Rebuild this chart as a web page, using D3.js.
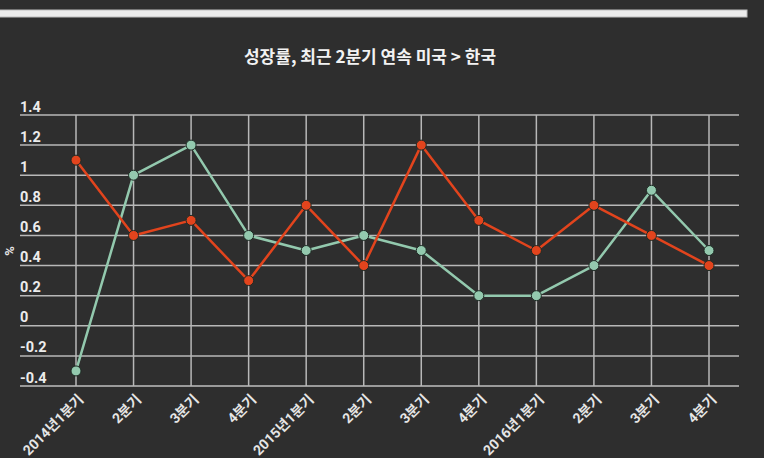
<!DOCTYPE html>
<html>
<head>
<meta charset="utf-8">
<script src="https://cdn.jsdelivr.net/npm/d3@7/dist/d3.min.js"></script>
<style>
  html, body { margin: 0; padding: 0; background: #2e2e2e; }
  svg { display: block; }
</style>
</head>
<body>
<svg id="chart" width="764" height="458"></svg>
<script>
const categories = ["2014년1분기","2분기","3분기","4분기","2015년1분기","2분기","3분기","4분기","2016년1분기","2분기","3분기","4분기"];
const korea = [1.1, 0.6, 0.7, 0.3, 0.8, 0.4, 1.2, 0.7, 0.5, 0.8, 0.6, 0.4];
const usa   = [-0.3, 1.0, 1.2, 0.6, 0.5, 0.6, 0.5, 0.2, 0.2, 0.4, 0.9, 0.5];
const yTicks = [-0.4, -0.2, 0, 0.2, 0.4, 0.6, 0.8, 1, 1.2, 1.4];
const yTickLabels = ["-0.4","-0.2","0","0.2","0.4","0.6","0.8","1","1.2","1.4"];
const title = "성장률, 최근 2분기 연속 미국 > 한국";

(function () {
const svg = d3.select("#chart");
const W = 764, H = 458;
svg.append("rect").attr("width", W).attr("height", H).attr("fill", "#2e2e2e");

// top bar
svg.append("rect").attr("x", -2).attr("y", 10).attr("width", 749).attr("height", 7)
  .attr("fill", "#ececec").attr("stroke", "#bdbdbd").attr("stroke-width", 1);

const pL = 20, pR = 739, pT = 115, pB = 386;
const x = d3.scalePoint().domain(categories.map((c, i) => i)).range([pL + 56, pR - 30]);
const y = d3.scaleLinear().domain([-0.4, 1.4]).range([pB, pT]);

const font = "Roboto, 'Noto Sans CJK KR', sans-serif";

svg.append("text").attr("x", 370).attr("y", 63).attr("text-anchor", "middle")
  .attr("fill", "#f2f2f2").attr("font-family", "'Noto Sans CJK KR', sans-serif")
  .attr("font-weight", "bold").attr("font-size", 17).text(title);

// horizontal grid
const gy = svg.append("g");
gy.selectAll("line").data(yTicks).join("line")
  .attr("x1", pL).attr("x2", pR)
  .attr("y1", d => y(d)).attr("y2", d => y(d))
  .attr("stroke", (d, i) => i === 0 ? "#9a9a9a" : "#b8b8b8").attr("stroke-width", (d,i)=> i===0 ? 2 : 1.5);
gy.selectAll("text").data(yTicks).join("text")
  .attr("x", pL).attr("y", d => y(d) - 3.5)
  .attr("fill", "#ececec").attr("font-family", font).attr("font-weight", "bold")
  .attr("font-size", 14.5).text((d, i) => yTickLabels[i]);

// vertical grid
const gx = svg.append("g");
gx.selectAll("line").data(categories).join("line")
  .attr("x1", (d, i) => x(i)).attr("x2", (d, i) => x(i))
  .attr("y1", pT).attr("y2", pB)
  .attr("stroke", "#b8b8b8").attr("stroke-width", 1.5);
gx.selectAll("text").data(categories).join("text")
  .attr("transform", (d, i) => `translate(${x(i) + 5},${pB + 11}) rotate(-45)`)
  .attr("text-anchor", "end").attr("dy", "0.35em")
  .attr("fill", "#e6e6e6").attr("font-family", font).attr("font-weight", "bold")
  .attr("font-size", 14).text(d => d);

// y axis title
svg.append("text").attr("transform", `translate(9,251) rotate(-90)`)
  .attr("text-anchor", "middle").attr("dy", "0.35em").attr("fill", "#e6e6e6").attr("font-family", font)
  .attr("font-weight", "bold").attr("font-size", 13).text("%");

const line = d3.line().x((d, i) => x(i)).y(d => y(d));

function drawSeries(data, color) {
  const g = svg.append("g");
  g.append("path").datum(data).attr("d", line).attr("fill", "none")
    .attr("stroke", color).attr("stroke-width", 2.5).attr("stroke-linejoin", "round");
  g.selectAll("circle").data(data).join("circle")
    .attr("cx", (d, i) => x(i)).attr("cy", d => y(d))
    .attr("r", 5).attr("fill", color).attr("stroke", "#1e2a24").attr("stroke-width", 1);
}
drawSeries(usa, "#93c9ae");
drawSeries(korea, "#e2441d");
})();
</script>
</body>
</html>
